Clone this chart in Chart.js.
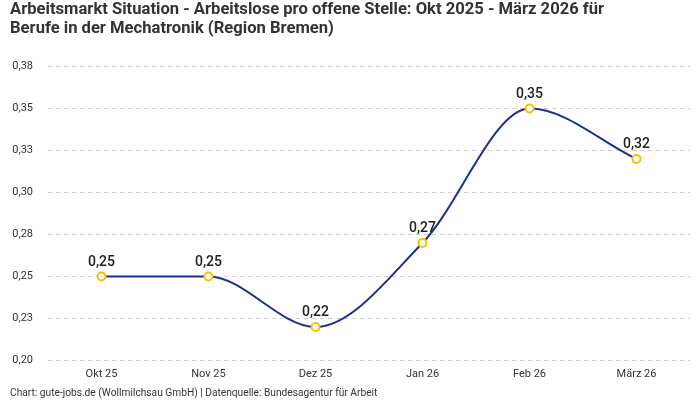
<!DOCTYPE html>
<html>
<head>
<meta charset="utf-8">
<script src="https://cdn.jsdelivr.net/npm/chart.js@4/dist/chart.umd.min.js"></script>
<style>
  body { margin: 0; background: #fff; }
  #wrap { width: 700px; height: 400px; }
</style>
</head>
<body>
<div id="wrap"><canvas id="myChart"></canvas></div>
<script>
var months = ['Okt 25', 'Nov 25', 'Dez 25', 'Jan 26', 'Feb 26', 'März 26'];
var ratioData = [0.25, 0.25, 0.22, 0.27, 0.35, 0.32];
var titleLines = [
  'Arbeitsmarkt Situation - Arbeitslose pro offene Stelle: Okt 2025 - März 2026 für',
  'Berufe in der Mechatronik (Region Bremen)'
];
var sourceText = 'Chart: gute-jobs.de (Wollmilchsau GmbH) | Datenquelle: Bundesagentur für Arbeit';

var FONT = 'Roboto, sans-serif';

function fmt(v) {
  return (Math.round(v * 100 + 1e-6) / 100).toFixed(2).replace('.', ',');
}

// simple value labels above the points
var valueLabels = {
  id: 'valueLabels',
  afterDatasetsDraw: function(chart) {
    var c = chart.ctx;
    var meta = chart.getDatasetMeta(0);
    c.save();
    c.font = '500 14px ' + FONT;
    c.fillStyle = '#222';
    c.textAlign = 'center';
    c.textBaseline = 'bottom';
    meta.data.forEach(function(pt, i) {
      c.fillText(fmt(ratioData[i]), pt.x, pt.y - 7);
    });
    c.restore();
  }
};

const ctx = document.getElementById('myChart');
var chart = new Chart(ctx, {
  type: 'line',
  data: {
    labels: months,
    datasets: [{
      data: ratioData,
      borderColor: '#1f2f8f',
      borderWidth: 2,
      backgroundColor: '#ffffff',
      pointBackgroundColor: '#ffffff',
      pointBorderColor: '#f5c400',
      pointBorderWidth: 2,
      pointRadius: 4,
      cubicInterpolationMode: 'monotone',
      fill: false
    }]
  },
  options: {
    responsive: true,
    maintainAspectRatio: false,
    animation: false,
    layout: { padding: { left: 10, right: 10, top: 0, bottom: 0 } },
    plugins: {
      legend: { display: false },
      tooltip: { enabled: false },
      title: {
        display: true,
        text: titleLines,
        align: 'start',
        color: '#333',
        font: { family: FONT, size: 16.6, weight: 'bold', lineHeight: 1.16 },
        padding: { top: 0, bottom: 28 }
      },
      subtitle: {
        display: true,
        position: 'bottom',
        text: sourceText,
        align: 'start',
        color: '#333',
        font: { family: FONT, size: 10.2 },
        padding: { top: 8, bottom: 0 }
      }
    },
    scales: {
      x: {
        offset: true,
        grid: { display: false },
        border: { display: false },
        ticks: { color: '#333', font: { family: FONT, size: 11 }, padding: -1 }
      },
      y: {
        min: 0.2,
        max: 0.375,
        border: { display: false, dash: [4, 4] },
        grid: { color: '#cfcfcf', drawTicks: false },
        afterFit: function(scale) { scale.width = 38; },
        ticks: {
          stepSize: 0.025,
          color: '#333',
          padding: 15,
          font: { family: FONT, size: 11 },
          callback: function(v) { return fmt(v); }
        }
      }
    }
  },
  plugins: [valueLabels]
});
</script>
</body>
</html>
